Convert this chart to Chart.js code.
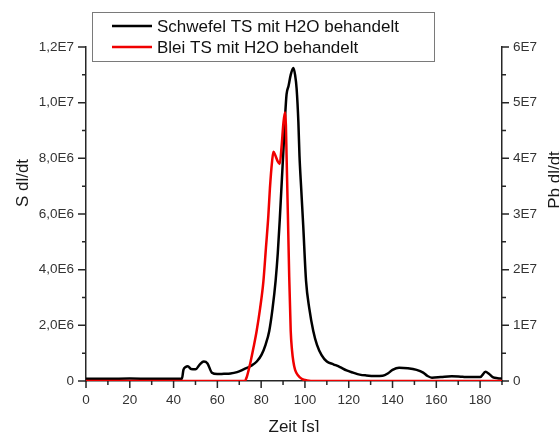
<!DOCTYPE html>
<html>
<head>
<meta charset="utf-8">
<title>Schwefel / Blei TS</title>
<script src="https://cdn.jsdelivr.net/npm/chart.js@4.4.0/dist/chart.umd.min.js"></script>
<style>
  body { margin: 0; background: #fff; }
  #chartWrapper { width: 559px; height: 432px; }
</style>
</head>
<body>
<div id="chartWrapper"><canvas id="tsChart" width="559" height="432"></canvas></div>
<script>
/* data */
var seriesNames = ['Schwefel TS mit H2O behandelt', 'Blei TS mit H2O behandelt'];

var schwefelZeit = [0, 10, 20, 30, 40, 43.8, 44.5, 45.5, 46.5, 48, 50, 52, 53.8, 55.5, 57.5, 60, 63, 66, 69, 72,
    75.5, 78, 80.2, 82, 83.7, 85.2, 86.6, 87.6, 88.5, 89.5, 90.3, 91, 91.6, 92.5, 93.5, 94.7, 95.5, 96.2, 97, 97.5,
    98.3, 99.2, 100.5, 102, 103.8, 105.5, 107.6, 110, 113, 116, 119, 122, 125, 128, 132, 135.5, 138, 140, 143, 147,
    151, 154, 156, 158, 162, 167, 172, 176, 180, 182.5, 184, 186, 188, 190];
var schwefelWerte = [8e4, 8e4, 9e4, 8e4, 8e4, 8e4, 4.0e5, 5.0e5, 5.3e5, 4.3e5, 4.2e5, 6.0e5, 7.0e5, 6.3e5, 3.0e5, 2.5e5, 2.6e5, 2.7e5, 3.2e5, 4.2e5,
    5.5e5, 7.0e5, 9.5e5, 1.3e6, 1.8e6, 2.6e6, 3.6e6, 4.6e6, 5.8e6, 7.3e6, 8.5e6, 9.6e6, 1.03e7, 1.06e7, 1.10e7, 1.125e7, 1.10e7, 1.05e7, 9.3e6, 8.1e6,
    6.9e6, 5.6e6, 3.6e6, 2.6e6, 1.8e6, 1.3e6, 9.3e5, 7.0e5, 6.0e5, 5.0e5, 3.8e5, 3.0e5, 2.3e5, 2.0e5, 1.8e5, 1.9e5, 2.8e5, 4.0e5, 4.8e5, 4.6e5,
    4.0e5, 3.0e5, 1.8e5, 1.2e5, 1.4e5, 1.7e5, 1.5e5, 1.4e5, 1.4e5, 3.3e5, 2.6e5, 1.3e5, 1.0e5, 8e4];

var bleiZeit = [0, 60, 72.5, 73.5, 74.3, 75.2, 76.5, 77.9, 79.5, 81, 82.2, 83.3, 84, 85, 85.6, 86.5, 87.5, 88.5, 89.3, 90.2,
    90.9, 91.3, 91.6, 92.2, 92.8, 93.5, 94.1, 94.7, 95.5, 96.9, 98.5, 101, 105, 190];
var bleiWerte = [0, 0, 0, 8e5, 2.0e6, 3.5e6, 6.0e6, 8.9e6, 1.3e7, 1.78e7, 2.4e7, 2.98e7, 3.46e7, 3.95e7, 4.12e7, 4.05e7, 3.95e7, 3.9e7, 4.2e7, 4.65e7,
    4.83e7, 4.6e7, 4.06e7, 3.0e7, 1.9e7, 9.0e6, 5.5e6, 3.5e6, 2.0e6, 1.0e6, 4e5, 1e5, 0, 0];

var zeitTickLabels = ['0', '20', '40', '60', '80', '100', '120', '140', '160', '180'];
var sTickLabels = ['0', '2,0E6', '4,0E6', '6,0E6', '8,0E6', '1,0E7', '1,2E7'];
var pbTickLabels = ['0', '1E7', '2E7', '3E7', '4E7', '5E7', '6E7'];
var axisTitles = ['Zeit [s]', 'S dl/dt', 'Pb dl/dt'];

var axisColor = '#262626';
var fontFamily = '"Liberation Sans", Arial, sans-serif';

function toPoints(xs, ys) {
    var pts = [];
    for (var i = 0; i < xs.length; i++) {
        pts.push({x: xs[i], y: ys[i]});
    }
    return pts;
}

/* small tick marks (major + minor), axis titles and the boxed legend */
var extrasPlugin = {
    id: 'extras',
    afterDraw: function(chart) {
        var ctx = chart.ctx;
        var sx = chart.scales.x, sy = chart.scales.yS, py = chart.scales.yPb;
        ctx.save();
        ctx.strokeStyle = axisColor;
        ctx.lineWidth = 1.5;

        function marks(scale, draw) {
            var t = scale.ticks;
            var step = t[1].value - t[0].value;
            t.forEach(function(tk) {
                draw(scale.getPixelForValue(tk.value), true);
                var m = tk.value + step / 2;
                if (m <= scale.max) draw(scale.getPixelForValue(m), false);
            });
        }
        ctx.beginPath();
        marks(sx, function(p, major) {
            ctx.moveTo(p, sx.top); ctx.lineTo(p, sx.top + (major ? 7 : 4));
        });
        marks(sy, function(p, major) {
            ctx.moveTo(sy.right, p); ctx.lineTo(sy.right - (major ? 8 : 4), p);
        });
        marks(py, function(p, major) {
            ctx.moveTo(py.left, p); ctx.lineTo(py.left + (major ? 7 : 4), p);
        });
        ctx.stroke();

        /* axis titles */
        ctx.fillStyle = '#1a1a1a';
        ctx.font = '17px ' + fontFamily;
        ctx.textAlign = 'center';
        ctx.textBaseline = 'alphabetic';
        ctx.fillText(axisTitles[0], (sx.left + sx.right) / 2, 432);
        ctx.save();
        ctx.translate(28, 183);
        ctx.rotate(-Math.PI / 2);
        ctx.fillText(axisTitles[1], 0, 0);
        ctx.restore();
        ctx.save();
        ctx.translate(560, 180);
        ctx.rotate(-Math.PI / 2);
        ctx.fillText(axisTitles[2], 0, 0);
        ctx.restore();

        /* legend */
        ctx.fillStyle = '#fff';
        ctx.fillRect(92, 12, 342, 49);
        ctx.strokeStyle = '#7a7a7a';
        ctx.lineWidth = 1;
        ctx.strokeRect(92.5, 12.5, 342, 49);
        var rows = [26, 47];
        chart.data.datasets.forEach(function(ds, i) {
            var idx = seriesNames.indexOf(ds.label);
            var y = rows[idx];
            ctx.strokeStyle = ds.borderColor;
            ctx.lineWidth = 2.5;
            ctx.beginPath();
            ctx.moveTo(112, y); ctx.lineTo(152, y);
            ctx.stroke();
            ctx.fillStyle = '#111';
            ctx.textAlign = 'left';
            ctx.textBaseline = 'middle';
            ctx.fillText(ds.label, 157, y + 1);
        });
        ctx.restore();
    }
};

function createTsChart() {
    var ctx = document.getElementById('tsChart').getContext('2d');
    Chart.defaults.font.family = fontFamily;
    Chart.defaults.font.size = 13.5;
    Chart.defaults.color = '#333';

    var chart = new Chart(ctx, {
        type: 'line',
        data: {
            datasets: [
                { label: seriesNames[0], data: toPoints(schwefelZeit, schwefelWerte), yAxisID: 'yS',
                  borderColor: '#000000', borderWidth: 2.5, pointRadius: 0, order: 1,
                  cubicInterpolationMode: 'monotone' },
                { label: seriesNames[1], data: toPoints(bleiZeit, bleiWerte), yAxisID: 'yPb',
                  borderColor: '#f00000', borderWidth: 2.5, pointRadius: 0, order: 0,
                  cubicInterpolationMode: 'monotone' }
            ]
        },
        options: {
            responsive: false,
            animation: false,
            devicePixelRatio: 1,
            layout: { padding: { top: 47, left: 0, right: 0, bottom: 0 } },
            plugins: { legend: { display: false }, tooltip: { enabled: false } },
            scales: {
                x: {
                    type: 'linear', min: 0, max: 190,
                    grid: { display: false, drawTicks: false },
                    border: { display: true, color: axisColor, width: 1.5 },
                    ticks: { stepSize: 20, includeBounds: false, padding: 11, maxRotation: 0, autoSkip: false,
                        callback: function(v, i) { return zeitTickLabels[i]; } },
                    afterFit: function(scale) { scale.height = 51; }
                },
                yS: {
                    type: 'linear', position: 'left', min: 0, max: 1.2e7,
                    grid: { display: false, drawTicks: false },
                    border: { display: true, color: axisColor, width: 1.5 },
                    ticks: { stepSize: 2e6, padding: 12, autoSkip: false,
                        callback: function(v, i) { return sTickLabels[i]; } },
                    afterFit: function(scale) { scale.width = 86; }
                },
                yPb: {
                    type: 'linear', position: 'right', min: 0, max: 6e7,
                    grid: { display: false, drawTicks: false },
                    border: { display: true, color: axisColor, width: 1.5 },
                    ticks: { stepSize: 1e7, padding: 11, autoSkip: false,
                        callback: function(v, i) { return pbTickLabels[i]; } },
                    afterFit: function(scale) { scale.width = 57; }
                }
            }
        },
        plugins: [extrasPlugin]
    });
    console.log('chart area', chart.chartArea);
}

createTsChart();
</script>
</body>
</html>
